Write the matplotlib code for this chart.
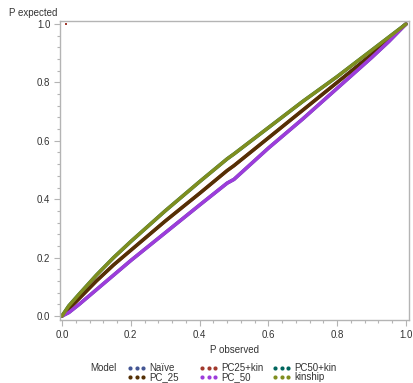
import numpy as np
import matplotlib
matplotlib.use("Agg")
import matplotlib.pyplot as plt
from matplotlib.lines import Line2D
from matplotlib.ticker import MultipleLocator, FormatStrFormatter

# ── datos ──────────────────────────────────────────────────────────────────
p_obs = [0.0, 0.02, 0.05, 0.10, 0.15, 0.20, 0.30, 0.40, 0.48, 0.50,
         0.60, 0.70, 0.80, 0.90, 0.95, 1.0]

y_naive   = [0.0, 0.012, 0.040, 0.090, 0.140, 0.190, 0.285, 0.380, 0.455, 0.468,
             0.575, 0.675, 0.780, 0.885, 0.940, 1.0]
y_pc25kin = [0.0, 0.025, 0.060, 0.120, 0.175, 0.225, 0.325, 0.420, 0.498, 0.515,
             0.610, 0.705, 0.800, 0.895, 0.948, 1.0]
y_pc50kin = [0.0, 0.035, 0.075, 0.140, 0.200, 0.255, 0.360, 0.460, 0.538, 0.555,
             0.645, 0.735, 0.820, 0.910, 0.955, 1.0]
y_pc25    = [0.0, 0.025, 0.060, 0.120, 0.175, 0.225, 0.325, 0.420, 0.498, 0.515,
             0.610, 0.705, 0.800, 0.895, 0.948, 1.0]
y_pc50    = [0.0, 0.012, 0.040, 0.090, 0.140, 0.190, 0.285, 0.380, 0.455, 0.468,
             0.575, 0.675, 0.780, 0.885, 0.940, 1.0]
y_kinship = [0.0, 0.035, 0.075, 0.140, 0.200, 0.255, 0.360, 0.460, 0.538, 0.555,
             0.645, 0.735, 0.820, 0.910, 0.955, 1.0]

# punto aislado de PC25+kin
outlier_x = [0.012]
outlier_y = [1.0]

modelos = ["Naïve", "PC25+kin", "PC50+kin", "PC_25", "PC_50", "kinship"]
colores = ["#445694", "#A23A2E", "#01665E", "#543005", "#9D3CDB", "#7F8E1F"]
series  = [y_naive, y_pc25kin, y_pc50kin, y_pc25, y_pc50, y_kinship]

# ── figura ────────────────────────────────────────────────────────────────
plt.rcParams["font.family"] = ["Liberation Sans", "DejaVu Sans"]
W, H = 413, 383
fig = plt.figure(figsize=(W / 100, H / 100), dpi=100)
ax = fig.add_axes([60 / W, (H - 320) / H, 349 / W, 299 / H])

for ys, c in zip(series, colores):
    ax.plot(p_obs, ys, color=c, linewidth=2.5, solid_capstyle="round")
ax.plot(outlier_x, outlier_y, "s", color=colores[1], markersize=2.0,
        markeredgewidth=0)

ax.set_xlim(-0.0058, 1.0087)
ax.set_ylim(-0.0137, 1.0103)
ax.xaxis.set_major_locator(MultipleLocator(0.2))
ax.yaxis.set_major_locator(MultipleLocator(0.2))
ax.xaxis.set_minor_locator(MultipleLocator(0.04))
ax.yaxis.set_minor_locator(MultipleLocator(0.04))
ax.xaxis.set_major_formatter(FormatStrFormatter("%.1f"))
ax.yaxis.set_major_formatter(FormatStrFormatter("%.1f"))

gris = "#b4b4b4"
for s in ax.spines.values():
    s.set_color(gris)
    s.set_linewidth(1.0)
ax.tick_params(which="major", length=4, width=0.8, color=gris,
               labelsize=7, labelcolor="#333333", pad=3)
ax.tick_params(which="minor", length=2.5, width=0.8, color=gris)

fig.text(9 / W, 1 - 13 / H, "P expected", fontsize=7, color="#333333",
         ha="left", va="center")
fig.text(234 / W, 1 - 350 / H, "P observed", fontsize=7, color="#333333",
         ha="center", va="center")

# ── leyenda manual (3 columnas x 2 filas) ─────────────────────────────────
fig.text(90 / W, 1 - 368 / H, "Model", fontsize=7, color="#333333",
         ha="left", va="center")
col_x = [128, 200, 273]
fila_y = [368, 377]
for i, (nom, c) in enumerate(zip(modelos, colores)):
    x0 = col_x[i % 3]
    y0 = fila_y[i // 3]
    xs = [(x0 + 2 + k * 6.5) / W for k in range(3)]
    fig.add_artist(Line2D(xs, [1 - y0 / H] * 3, transform=fig.transFigure,
                          linestyle="none", marker="o", markersize=3.0,
                          color=c, markeredgewidth=0))
    fig.text((x0 + 21) / W, 1 - y0 / H, nom, fontsize=7, color="#333333",
             ha="left", va="center")

fig.savefig("out.png", dpi=100)
